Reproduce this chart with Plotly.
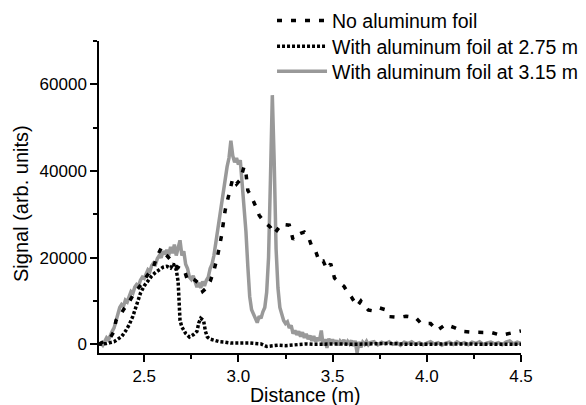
import plotly.graph_objects as go

# ---- data ----
# No aluminum foil (black, sparse dashes)
nofoil_x = [2.26, 2.28, 2.30, 2.32, 2.34, 2.35, 2.37, 2.39, 2.42, 2.45, 2.47, 2.50, 2.53, 2.55,
            2.57, 2.59, 2.61, 2.63, 2.65, 2.67, 2.69, 2.71, 2.73, 2.75, 2.77, 2.79, 2.81, 2.83,
            2.85, 2.87, 2.89, 2.91, 2.93, 2.95, 2.97, 2.99, 3.01, 3.03, 3.04, 3.05, 3.07, 3.09,
            3.11, 3.13, 3.15, 3.17, 3.19, 3.21, 3.23, 3.25, 3.27, 3.29, 3.31, 3.33, 3.35, 3.37,
            3.39, 3.41, 3.43, 3.45, 3.47, 3.49, 3.51, 3.53, 3.56, 3.58, 3.60, 3.63, 3.65, 3.67,
            3.69, 3.72, 3.75, 3.78, 3.80, 3.83, 3.85, 3.89, 3.92, 3.94, 3.97, 4.02, 4.055, 4.10,
            4.15, 4.19, 4.245, 4.28, 4.345, 4.395, 4.45, 4.50]
nofoil_y = [0, 500, 900, 1500, 3000, 5500, 6500, 8000, 9800, 12000, 13000, 15000, 17000, 18000,
            20500, 22200, 21000, 20000, 19000, 18000, 17500, 17500, 14800, 15200, 14800, 14000, 12200, 13000,
            14500, 17000, 20500, 25000, 31000, 34500, 38300, 37000, 38000, 41000, 39500, 35500, 34000, 32000,
            29800, 28600, 27900, 27000, 25500, 26500, 27800, 27600, 27500, 24200, 25200, 25600, 25900, 25000,
            22500, 21500, 19000, 19200, 17300, 18600, 15300, 14500, 13400, 12000, 10900, 8800, 10000, 8800,
            7900, 7700, 8400, 8000, 6400, 6300, 6200, 6500, 6300, 6200, 4800, 4800, 3200, 4600,
            3800, 3000, 2800, 2800, 2700, 2100, 2700, 3100]

# With aluminum foil at 2.75 m (black, dense dots)
foil275_x = [2.26, 2.28, 2.30, 2.32, 2.34, 2.36, 2.38, 2.40, 2.42, 2.44, 2.46, 2.48, 2.50, 2.52,
             2.54, 2.56, 2.58, 2.60, 2.62, 2.64, 2.655, 2.67, 2.68, 2.685, 2.69, 2.70, 2.71, 2.72,
             2.74, 2.76, 2.78, 2.79, 2.80, 2.815, 2.825, 2.835, 2.85, 2.87, 2.90, 2.93, 2.96, 3.00,
             3.03, 3.06, 3.09, 3.12, 3.15, 3.18, 3.21, 3.25, 3.28, 3.32, 3.36, 3.40, 3.45, 3.50,
             3.55, 3.60, 3.65, 3.70, 3.80, 3.90, 4.00, 4.10, 4.20, 4.30, 4.40, 4.50]
foil275_y = [0, 0, 200, 400, 600, 1200, 1800, 3000, 4500, 6500, 9000, 11800, 13500, 14800,
             15800, 16600, 17300, 17800, 18000, 17600, 18600, 17200, 14500, 9000, 5500, 4000, 3000, 2500,
             1700, 2200, 3000, 5000, 6000, 5500, 3000, 1700, 1200, 900, 600, 500, 300, 300,
             400, 300, 200, 100, -500, -300, -200, -300, -200, 0, 100, 0, 100, 0,
             100, 0, 100, 0, 200, 0, 100, 0, 100, 0, 100, 0]

# With aluminum foil at 3.15 m (grey solid)
foil315_x = [2.26, 2.27, 2.28, 2.29, 2.30, 2.31, 2.32, 2.33, 2.34, 2.35, 2.36, 2.37, 2.38, 2.39,
             2.40, 2.41, 2.42, 2.43, 2.44, 2.45, 2.46, 2.47, 2.48, 2.49, 2.50, 2.51, 2.52, 2.53,
             2.54, 2.55, 2.56, 2.57, 2.58, 2.59, 2.60, 2.61, 2.62, 2.63, 2.64, 2.65, 2.66, 2.67,
             2.68, 2.69, 2.70, 2.71, 2.72, 2.73, 2.74, 2.75, 2.76, 2.77, 2.78, 2.79, 2.80, 2.81,
             2.82, 2.83, 2.84, 2.85, 2.86, 2.87, 2.88, 2.89, 2.90, 2.91, 2.92, 2.93, 2.94, 2.95,
             2.96, 2.97, 2.98, 2.99, 3.00, 3.01, 3.02, 3.03, 3.04, 3.05, 3.06, 3.07, 3.08, 3.09,
             3.10, 3.11, 3.12, 3.13, 3.14, 3.15, 3.16, 3.17, 3.18, 3.19, 3.20, 3.21, 3.22, 3.23,
             3.24, 3.25, 3.26, 3.27, 3.28, 3.29, 3.30, 3.31, 3.32, 3.33, 3.34, 3.35, 3.36, 3.37,
             3.38, 3.39, 3.40, 3.41, 3.42, 3.43, 3.44, 3.45, 3.46, 3.47, 3.48, 3.49, 3.50, 3.51,
             3.52, 3.53, 3.54, 3.55, 3.56, 3.57, 3.58, 3.59, 3.60, 3.61, 3.62, 3.63, 3.64, 3.65,
             3.66, 3.67, 3.68, 3.69, 3.70, 3.72, 3.74, 3.76, 3.78, 3.80, 3.82, 3.84, 3.86, 3.88,
             3.90, 3.92, 3.94, 3.96, 3.98, 4.00, 4.02, 4.04, 4.06, 4.08, 4.10, 4.12, 4.14, 4.16,
             4.18, 4.20, 4.22, 4.24, 4.26, 4.28, 4.30, 4.32, 4.34, 4.36, 4.38, 4.40, 4.42, 4.44,
             4.46, 4.48, 4.50]
foil315_y = [0, 300, -200, 600, 1500, 1000, 2200, 3000, 3800, 5500, 6800, 8500, 9200, 8800,
             10200, 9800, 11000, 12200, 11800, 13200, 13800, 13500, 14800, 15500, 15200, 16500, 17200, 16800,
             18200, 18800, 18500, 19800, 20500, 20000, 21500, 20800, 21800, 20500, 22500, 21000, 23000, 20500,
             22000, 24000, 20500, 21500, 18500, 17500, 15500, 15000, 15800, 14500, 13200, 14200, 13000, 14500,
             13500, 14800, 15500, 17500, 18500, 20500, 23500, 27000, 29500, 32500, 35500, 37900, 41000, 43000,
             47000, 43500, 42000, 43000, 41500, 42500, 37000, 33000, 26000, 18000, 11000, 8000, 7000, 5500,
             5000, 6500, 6000, 7500, 8500, 12000, 20000, 38000, 57500, 42000, 22000, 13000, 8500, 7000,
             5500, 4800, 5200, 3800, 4400, 2500, 3200, 2200, 3000, 1800, 2800, 1500, 2400, 1200,
             2000, 800, 1900, 600, 1500, 800, 3200, -300, 1200, -800, 1300, 400, 1100, 200,
             900, -200, 800, 300, 1000, -100, 700, 100, 900, -400, 800, -2000, 600, -700,
             500, 0, 700, -100, 400, 600, -100, 500, 100, 600, 0, 400, -200, 500,
             200, 600, 0, 400, -100, 300, 600, 100, 400, -200, 300, 500, 0, 600,
             100, 400, -100, 500, 200, 600, 0, 300, 500, 100, 400, -100, 500, 800,
             100, 500, 200]

series_names = ["No aluminum foil", "With aluminum foil at 2.75 m", "With aluminum foil at 3.15 m"]

x_range = [2.26, 4.5]
y_range = [-2000, 70000]
y_tickvals = [0, 20000, 40000, 60000]
y_ticktext = ["0", "20000", "40000", "60000"]
x_tickvals = [2.5, 3.0, 3.5, 4.0, 4.5]
x_ticktext = ["2.5", "3.0", "3.5", "4.0", "4.5"]

FONT = "Liberation Sans, Arial, Helvetica, sans-serif"

fig = go.Figure()
fig.add_trace(go.Scatter(x=foil315_x, y=foil315_y, mode="lines", name=series_names[2],
                         line=dict(color="#999999", width=3.5), legend="legend3"))
fig.add_trace(go.Scatter(x=foil275_x, y=foil275_y, mode="lines", name=series_names[1],
                         line=dict(color="black", width=3.5, dash="3px,2px"), legend="legend2"))
fig.add_trace(go.Scatter(x=nofoil_x, y=nofoil_y, mode="lines", name=series_names[0],
                         line=dict(color="black", width=3.5, dash="5px,9px"), legend="legend"))

leg_common = dict(xanchor="left", yanchor="middle", bgcolor="rgba(0,0,0,0)",
                  font=dict(size=19.5), itemwidth=50)

# The page body has an 8px default margin, so the figure is sized to the
# remaining visible area (586-8 by 405-8).
fig.update_layout(
    width=578, height=397,
    margin=dict(l=91, r=65, t=33, b=52, autoexpand=False),
    paper_bgcolor="white", plot_bgcolor="white",
    font=dict(family=FONT, size=17, color="black"),
    showlegend=True,
    legend=dict(x=0.41, y=1.065, **leg_common),
    legend2=dict(x=0.41, y=0.982, **leg_common),
    legend3=dict(x=0.41, y=0.902, **leg_common),
    xaxis=dict(range=x_range, showline=True, linecolor="black", linewidth=1.5,
               ticks="outside", ticklen=7, tickwidth=1.5, tickcolor="black",
               tickmode="array", tickvals=x_tickvals, ticktext=x_ticktext,
               minor=dict(dtick=0.25, tick0=2.25, ticks="outside", ticklen=4, tickwidth=1.5, tickcolor="black"),
               showgrid=False, zeroline=False, mirror=False, automargin=False),
    yaxis=dict(range=y_range, showline=True, linecolor="black", linewidth=1.5,
               ticks="outside", ticklen=7, tickwidth=1.5, tickcolor="black",
               tickmode="array", tickvals=y_tickvals, ticktext=y_ticktext,
               minor=dict(dtick=10000, tick0=0, ticks="outside", ticklen=4, tickwidth=1.5, tickcolor="black"),
               showgrid=False, zeroline=False, mirror=False, automargin=False),
    annotations=[
        dict(text="Distance (m)", xref="paper", yref="paper", x=0.49, y=0, yshift=-42,
             xanchor="center", yanchor="middle", showarrow=False, font=dict(size=19.5)),
        dict(text="Signal (arb. units)", xref="paper", yref="paper", x=0, xshift=-78,
             y=0.5, yshift=-7, xanchor="center", yanchor="middle", textangle=-90,
             showarrow=False, font=dict(size=20)),
    ],
)

fig.write_html("out.html")
